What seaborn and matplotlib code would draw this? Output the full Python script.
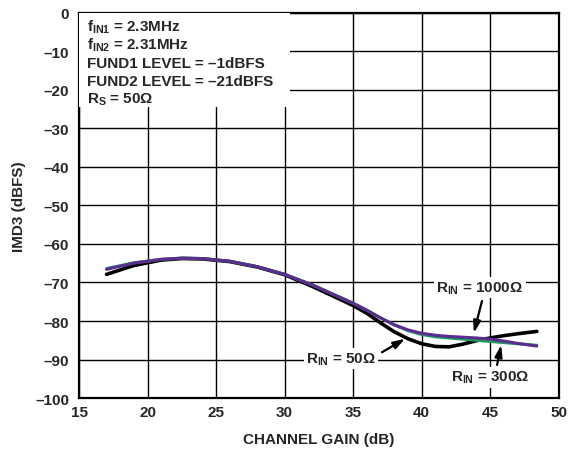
import matplotlib.pyplot as plt
import pandas as pd
import seaborn as sns
from matplotlib.patches import Rectangle

# channel gain (dB) sample points
gain = [17, 19, 21, 22.5, 24, 26, 28, 30, 32, 34, 35, 36, 37, 38, 39, 40,
        41, 42, 43, 44, 45, 46, 47, 48.4]
imd3_50 = [-67.9, -65.6, -64.2, -63.8, -63.9, -64.6, -66.0, -68.0, -71.0, -74.3,
           -76.0, -78.0, -80.5, -82.8, -84.6, -85.9, -86.6, -86.7, -86.0, -85.1,
           -84.4, -83.8, -83.3, -82.7]
imd3_300 = [-66.4, -64.9, -64.0, -63.7, -63.8, -64.5, -65.9, -67.9, -70.6, -73.8,
            -75.4, -77.2, -79.2, -81.0, -82.5, -83.5, -84.1, -84.4, -84.7, -85.0,
            -85.3, -85.6, -85.9, -86.3]
imd3_1000 = [-66.6, -65.0, -64.0, -63.7, -63.8, -64.5, -65.9, -67.9, -70.6, -73.8,
             -75.4, -77.2, -79.2, -81.0, -82.3, -83.2, -83.7, -84.0, -84.2, -84.4,
             -84.7, -85.2, -85.8, -86.5]

x_ticks = [15, 20, 25, 30, 35, 40, 45, 50]
y_ticks = [0, -10, -20, -30, -40, -50, -60, -70, -80, -90, -100]

info_lines = ["$f_{IN1}$ = 2.3MHz", "$f_{IN2}$ = 2.31MHz",
              "FUND1 LEVEL = \u20131dBFS", "FUND2 LEVEL = \u201321dBFS",
              "$R_S$ = 50\u03a9"]

sns.set_style("white")
plt.rcParams["font.family"] = ["Liberation Sans", "DejaVu Sans"]
plt.rcParams["font.weight"] = "bold"
plt.rcParams["mathtext.fontset"] = "custom"
plt.rcParams["mathtext.rm"] = "Liberation Sans:bold"
plt.rcParams["mathtext.it"] = "Liberation Sans:bold"
plt.rcParams["mathtext.bf"] = "Liberation Sans:bold"

fig = plt.figure(figsize=(5.69, 4.52), dpi=100)
ax = fig.add_axes([0.139, 0.117, 0.843, 0.853])

df = pd.DataFrame({"gain": gain, "r50": imd3_50, "r300": imd3_300, "r1000": imd3_1000})
sns.lineplot(data=df, x="gain", y="r300", ax=ax, color="#1e9a5a", lw=2.2, zorder=3)
sns.lineplot(data=df, x="gain", y="r1000", ax=ax, color="#5b2d91", lw=2.2, zorder=4)
sns.lineplot(data=df, x="gain", y="r50", ax=ax, color="black", lw=2.6, zorder=2)

ax.set_xlim(15, 50)
ax.set_ylim(-100, 0)
ax.set_xticks(x_ticks)
ax.set_yticks(y_ticks)
ax.set_xticklabels([str(t) for t in x_ticks], fontsize=11, fontweight="bold")
ax.set_yticklabels([str(t).replace("-", "\u2013") for t in y_ticks], fontsize=11,
                   fontweight="bold")
ax.tick_params(axis="y", length=0, pad=7)
ax.tick_params(axis="x", length=0, pad=5)
ax.grid(True, color="black", lw=1.0)
for s in ax.spines.values():
    s.set_color("black")
    s.set_linewidth(1.6)

ax.set_xlabel("CHANNEL GAIN (dB)", fontsize=11, fontweight="bold", labelpad=9)
ax.set_ylabel("IMD3 (dBFS)", fontsize=11, fontweight="bold", labelpad=7)

# white area behind the conditions block
ax.add_patch(Rectangle((15, -24.5), 15.4, 24.5, facecolor="white", edgecolor="none",
                       zorder=4.5))
for i, line in enumerate(info_lines):
    ax.text(15.55, -3.5 - 4.74 * i, line, fontsize=11, fontweight="bold",
            va="center", ha="left", zorder=5)

box = dict(facecolor="white", edgecolor="none", pad=1.5)
arrow = dict(arrowstyle="-|>,head_length=0.7,head_width=0.22", color="black", lw=1.6,
             shrinkA=0, shrinkB=0)
ax.text(44.25, -71.3, "$R_{IN}$ = 1000\u03a9", fontsize=11, fontweight="bold",
        ha="center", va="center", bbox=box, zorder=6)
ax.text(34.1, -89.8, "$R_{IN}$ = 50\u03a9", fontsize=11, fontweight="bold",
        ha="center", va="center", bbox=box, zorder=6)
ax.text(45.0, -94.6, "$R_{IN}$ = 300\u03a9", fontsize=11, fontweight="bold",
        ha="center", va="center", bbox=box, zorder=6)
ax.annotate("", xy=(43.8, -83.1), xytext=(44.4, -74.8), arrowprops=arrow, zorder=6)
ax.annotate("", xy=(38.8, -84.6), xytext=(37.1, -88.1), arrowprops=arrow, zorder=6)
ax.annotate("", xy=(45.8, -86.2), xytext=(45.5, -91.4), arrowprops=arrow, zorder=6)

fig.savefig("out.png", dpi=100)
